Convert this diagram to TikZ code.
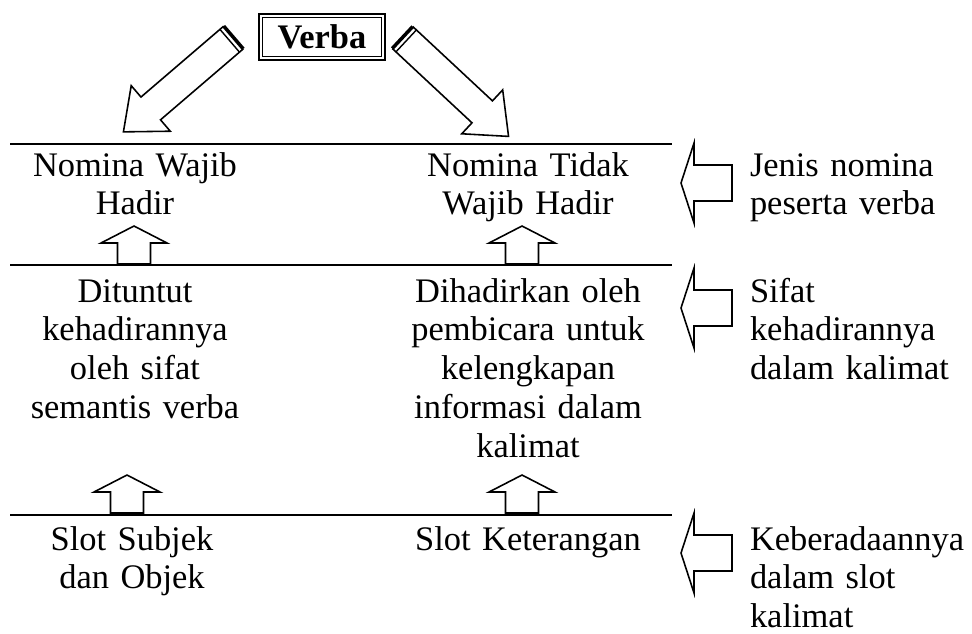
\documentclass[tikz,border=0pt]{standalone}
\usepackage{fontspec}
\setmainfont{Liberation Serif}
\usepackage{tikz}

\begin{document}
\begin{tikzpicture}[x=0.02cm,y=-0.02cm,
  every node/.style={inner sep=0pt, outer sep=0pt, font={\fontsize{19.6}{22.1}\selectfont}},
  mid/.style={align=center, text width=5cm, anchor=base},
  side/.style={align=left, text width=4.4cm, anchor=base west},
  rule/.style={line width=1.6pt},
  outl/.style={line width=0.9pt, fill=white},
  uparr/.pic={\draw[outl] (-16.5,0) -- (-16.5,-21) -- (-33,-21) -- (0,-38) -- (33,-21) -- (16.5,-21) -- (16.5,0) -- cycle;},
  leftarr/.pic={\draw[outl] (0,0) -- (13,-40) -- (13,-18) -- (51,-18) -- (51,18) -- (13,18) -- (13,40) -- cycle;},
  diagarr/.pic={
    \draw[outl] (0,15) -- (109,15) -- (109,30) -- (145,0) -- (109,-30) -- (109,-15) -- (0,-15);
    \draw[line width=2pt] (0,-15) -- (0,15);
    \draw[line width=0.8pt] (5,-15) -- (5,15);}]
\useasboundingbox (0,0) rectangle (972,633);
% top box and the two big arrows
\node[draw, double, double distance=1.4pt, line width=0.8pt, minimum width=2.45cm, minimum height=0.85cm,
  font={\fontsize{19.6}{22.1}\selectfont\bfseries}] (verba) at (322,37) {Verba};
\pic[rotate=-139.4] at (233.5,37.5) {diagarr};
\pic[rotate=-43] at (402.5,37.5) {diagarr};
% rules
\draw[rule] (10,144) -- (672,144);
\draw[rule] (10,265) -- (672,265);
\draw[rule] (10,515) -- (672,515);
% row 1
\node[mid] (nwh) at (135,176) {Nomina Wajib\\Hadir};
\node[mid] (ntwh) at (528,176) {Nomina Tidak\\Wajib Hadir};
\pic at (134,264) {uparr};
\pic at (522,264) {uparr};
% row 2
\node[mid] (dituntut) at (135,302) {Dituntut\\kehadirannya\\oleh sifat\\semantis verba};
\node[mid] (dihadirkan) at (528,302) {Dihadirkan oleh\\pembicara untuk\\kelengkapan\\informasi dalam\\kalimat};
\pic at (127,513) {uparr};
\pic at (522,513) {uparr};
% row 3
\node[mid] (subjek) at (132,550) {Slot Subjek\\dan Objek};
\node[mid] (keterangan) at (528,550) {Slot Keterangan};
% right side labels
\pic at (681,183) {leftarr};
\pic at (681,308) {leftarr};
\pic at (681,553) {leftarr};
\node[side] (jenis) at (750,176) {Jenis nomina\\peserta verba};
\node[side] (sifat) at (750,302) {Sifat\\kehadirannya\\dalam kalimat};
\node[side] (keberadaan) at (750,550) {Keberadaannya\\dalam slot\\kalimat};
\end{tikzpicture}
\end{document}
